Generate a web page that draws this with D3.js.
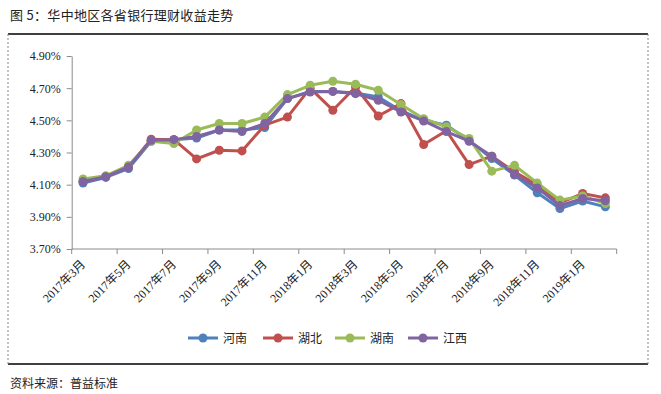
<!DOCTYPE html>
<html><head><meta charset="utf-8">
<script src="https://cdn.jsdelivr.net/npm/d3@7"></script>
<style>body{margin:0;background:#fff}svg{display:block}</style>
</head><body><svg id="c" width="661" height="394"></svg>
<script>
const months = ["2017年3月","2017年4月","2017年5月","2017年6月","2017年7月","2017年8月","2017年9月","2017年10月","2017年11月","2017年12月",
"2018年1月","2018年2月","2018年3月","2018年4月","2018年5月","2018年6月","2018年7月","2018年8月","2018年9月","2018年10月","2018年11月","2018年12月",
"2019年1月","2019年2月"];
const henan = [4.11,4.145,4.20,4.37,4.38,4.39,4.44,4.44,4.455,4.635,4.68,4.68,4.67,4.645,4.56,4.50,4.47,4.375,4.263,4.16,4.05,3.952,3.998,3.962];
const hubei = [4.12,4.15,4.21,4.383,4.38,4.26,4.314,4.31,4.47,4.52,4.70,4.563,4.707,4.527,4.604,4.35,4.435,4.225,4.277,4.18,4.097,3.987,4.045,4.018];
const hunan = [4.135,4.155,4.22,4.37,4.356,4.44,4.48,4.48,4.52,4.66,4.718,4.743,4.724,4.687,4.598,4.51,4.46,4.387,4.184,4.22,4.11,4.004,4.03,3.983];
const jiangxi = [4.12,4.15,4.21,4.376,4.38,4.40,4.44,4.43,4.48,4.635,4.676,4.68,4.666,4.625,4.552,4.496,4.43,4.37,4.277,4.163,4.08,3.97,4.014,4.00];
const seriesNames = ["河南","湖北","湖南","江西"];
const colors = ["#4F81BD","#C0504D","#9BBB59","#8064A2"];
const yTicks = [3.70,3.90,4.10,4.30,4.50,4.70,4.90];
const xTickLabels = ["2017年3月","2017年5月","2017年7月","2017年9月","2017年11月","2018年1月","2018年3月","2018年5月","2018年7月","2018年9月","2018年11月","2019年1月"];
const title = "图 5：华中地区各省银行理财收益走势";
const source = "资料来源：普益标准";

const allSeries = [henan, hubei, hunan, jiangxi];
const svg = d3.select("#c");
const cjk = "'Noto Sans CJK SC', sans-serif";
const serif = "'Liberation Serif','Times New Roman', 'Noto Sans CJK SC', serif";

// frame
svg.append("line").attr("x1",8).attr("x2",648).attr("y1",34).attr("y2",34).attr("stroke","#000").attr("stroke-width",1.5);
svg.append("line").attr("x1",8).attr("x2",648).attr("y1",364).attr("y2",364).attr("stroke","#000").attr("stroke-width",1.5);
[8,648].forEach(x=>svg.append("line").attr("x1",x).attr("x2",x).attr("y1",34).attr("y2",364)
  .attr("stroke","#888").attr("stroke-dasharray","2,2").attr("stroke-width",1));

svg.append("text").attr("x",10).attr("y",20).attr("font-family",cjk).attr("font-size",13).attr("fill","#222").attr("letter-spacing",0.3).text(title);
svg.append("text").attr("x",10).attr("y",388).attr("font-family",cjk).attr("font-size",12).attr("fill","#222").text(source);

const x = d3.scaleBand().domain(months).range([71.7,616.7]).padding(0);
const y = d3.scaleLinear().domain([3.70,4.90]).range([249,56]);
const axisColor = "#8c8c8c";

// y axis
const yAxis = svg.append("g").attr("transform","translate(71.7,0)")
  .call(d3.axisLeft(y).tickValues(yTicks).tickSize(5).tickSizeOuter(0).tickFormat(d=>d.toFixed(2)+"%"));
yAxis.select(".domain").attr("stroke",axisColor);
yAxis.selectAll(".tick line").attr("stroke",axisColor);
yAxis.selectAll("text").attr("font-family",serif).attr("font-size",12).attr("fill","#222").attr("x",-11);

// x axis
const xg = svg.append("g").attr("transform","translate(0,249)");
xg.append("line").attr("x1",71.7).attr("x2",616.7).attr("stroke",axisColor);
const bw = x.bandwidth();
const tickPos = d3.range(0, months.length+1, 2).map(i=>71.7 + i*bw);
xg.selectAll("line.t").data(tickPos).join("line").attr("class","t")
  .attr("x1",d=>d).attr("x2",d=>d).attr("y1",0).attr("y2",5).attr("stroke",axisColor);
xg.selectAll("text").data(xTickLabels).join("text")
  .attr("transform",d=>`translate(${x(d)+bw/2+3},${16}) rotate(-45)`)
  .attr("text-anchor","end").attr("font-family",serif).attr("font-size",12).attr("fill","#222")
  .text(d=>d);

// lines
const line = d3.line().x((d,i)=>x(months[i])+bw/2).y(d=>y(d));
allSeries.forEach((s,k)=>{
  const g = svg.append("g");
  g.append("path").datum(s).attr("d",line).attr("fill","none").attr("stroke",colors[k]).attr("stroke-width",3).attr("stroke-linejoin","round");
  g.selectAll("circle").data(s).join("circle").attr("cx",(d,i)=>x(months[i])+bw/2).attr("cy",d=>y(d)).attr("r",4.5).attr("fill",colors[k]);
});

// legend
const legX = [188,263,335,408];
seriesNames.forEach((n,k)=>{
  const g = svg.append("g").attr("transform",`translate(${legX[k]},338)`);
  g.append("line").attr("x1",0).attr("x2",30).attr("stroke",colors[k]).attr("stroke-width",3);
  g.append("circle").attr("cx",15).attr("r",4.5).attr("fill",colors[k]);
  g.append("text").attr("x",35).attr("y",4.5).attr("font-family",cjk).attr("font-size",12).attr("fill","#222").text(n);
});
</script></body></html>
